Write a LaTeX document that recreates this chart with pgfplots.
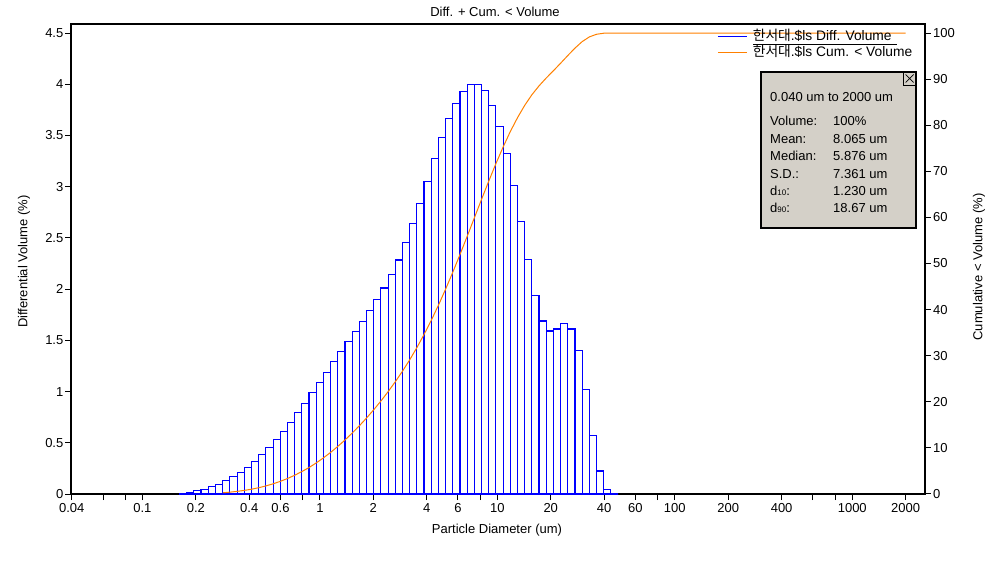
\documentclass[border=0pt]{standalone}
\usepackage{pgfplots}
\pgfplotsset{compat=1.18}
\usepackage{fontspec}
\setmainfont{Liberation Sans}
\newfontfamily\kr{Noto Sans CJK KR}
\definecolor{barblue}{RGB}{0,0,255}
\definecolor{cumorange}{RGB}{255,128,0}
\definecolor{boxgray}{RGB}{212,208,200}
\newcommand\f{\fontsize{13}{15}\selectfont}
\newcommand\fl{\fontsize{13.8}{15}\selectfont}

\begin{document}
\begin{tikzpicture}[x=1pt,y=1pt]
\path[use as bounding box] (0,0) rectangle (1002,563);
\begin{axis}[
  at={(71pt,69pt)}, anchor=south west,
  scale only axis, width=854pt, height=470pt,
  xmode=log, xmin=0.0396, xmax=2570,
  ymin=0, ymax=4.588,
  xminorticks=false,
  axis line style={line width=1.4pt},
  tick align=outside, major tick length=6pt,
  every tick/.style={black, line width=1pt},
  xtick pos=bottom, ytick pos=left,
  xtick={0.04,0.06,0.08,0.1,0.2,0.4,0.6,0.8,1,2,4,6,8,10,20,40,60,80,100,200,400,600,800,1000,2000},
  xticklabels={0.04,,,0.1,0.2,0.4,0.6,,1,2,4,6,,10,20,40,60,,100,200,400,,,1000,2000},
  ytick={0,0.5,1,1.5,2,2.5,3,3.5,4,4.5},
  yticklabels={0,0.5,1,1.5,2,2.5,3,3.5,4,4.5},
  tick label style={font=\f},
  yticklabel style={inner sep=1.5pt},
  xticklabel style={inner sep=3.5pt},
  /pgf/number format/assume math mode=true,
]
\addplot[ybar interval, draw=barblue, fill=white, line width=1.1pt] coordinates {
(0.162,0.005) (0.178,0.018) (0.195,0.03) (0.214,0.047) (0.235,0.07) (0.258,0.097) (0.284,0.133) (0.311,0.17) (0.342,0.211) (0.375,0.26) (0.412,0.319) (0.452,0.387) (0.496,0.455) (0.545,0.533) (0.598,0.61) (0.657,0.698) (0.721,0.797) (0.791,0.883) (0.869,0.992) (0.954,1.09) (1.047,1.184) (1.149,1.292) (1.261,1.39) (1.385,1.487) (1.520,1.585) (1.669,1.682) (1.832,1.788) (2.011,1.895) (2.208,2.011) (2.423,2.141) (2.660,2.284) (2.920,2.455) (3.206,2.64) (3.519,2.838) (3.863,3.053) (4.241,3.277) (4.656,3.482) (5.111,3.667) (5.611,3.814) (6.159,3.931) (6.761,4.0) (7.422,4.0) (8.148,3.94) (8.944,3.794) (9.819,3.589) (10.78,3.326) (11.83,3.013) (12.99,2.662) (14.26,2.29) (15.65,1.936) (17.18,1.689) (18.86,1.591) (20.71,1.611) (22.73,1.662) (24.95,1.611) (27.39,1.399) (30.07,1.018) (33.01,0.569) (36.24,0.225) (39.78,0.04) (43.67,0) (47.94,0)
};
\end{axis}
\begin{axis}[
  at={(71pt,69pt)}, anchor=south west,
  scale only axis, width=854pt, height=470pt,
  xmode=log, xmin=0.0396, xmax=2570,
  ymin=0, ymax=101.96,
  axis x line=none, axis y line*=right,
  axis line style={line width=1.4pt},
  tick align=outside, major tick length=6pt,
  every tick/.style={black, line width=1pt},
  ytick={0,10,20,30,40,50,60,70,80,90,100},
  yticklabels={0,10,20,30,40,50,60,70,80,90,100},
  tick label style={font=\f},
  yticklabel style={inner sep=2pt},
  /pgf/number format/assume math mode=true,
  legend style={at={(0.7564,0.9915)}, anchor=north west, draw=none, fill=none,
    inner sep=0pt, row sep=0pt, font=\fl,
    nodes={inner sep=2.5pt, text height=10pt, text depth=1pt}},
  legend cell align=left,
  legend image code/.code={\draw[#1, line width=1.3pt] (0pt,0pt) -- (29pt,0pt); \path (32pt,0pt);},
]
\addlegendimage{barblue}
\addlegendentry{{\kr 한서대}.\$ls Diff. Volume}
\addplot[cumorange, line width=1pt] coordinates {
(0.284,0.27) (0.311,0.40) (0.342,0.57) (0.375,0.78) (0.412,1.04) (0.452,1.36) (0.496,1.75) (0.545,2.21) (0.598,2.74) (0.657,3.36) (0.721,4.06) (0.791,4.86) (0.869,5.74) (0.954,6.74) (1.047,7.83) (1.149,9.02) (1.261,10.31) (1.385,11.71) (1.520,13.20) (1.669,14.79) (1.832,16.48) (2.011,18.27) (2.208,20.17) (2.423,22.19) (2.660,24.34) (2.920,26.63) (3.206,29.09) (3.519,31.74) (3.863,34.59) (4.241,37.65) (4.656,40.94) (5.111,44.44) (5.611,48.11) (6.159,51.94) (6.761,55.88) (7.422,59.90) (8.148,63.91) (8.944,67.86) (9.819,71.67) (10.78,75.27) (11.83,78.61) (12.99,81.63) (14.26,84.30) (15.65,86.60) (17.18,88.54) (18.86,90.24) (20.71,91.83) (22.73,93.45) (24.95,95.12) (27.39,96.73) (30.07,98.14) (33.01,99.16) (36.24,99.73) (39.78,99.96) (43.67,100) (2000,100)
};
\addlegendentry{{\kr 한서대}.\$ls Cum. < Volume}
\end{axis}
% titles and axis labels
\node[font=\f] at (495,551) {Diff. + Cum. < Volume};
\node[font=\f] at (497,33) {Particle Diameter (um)};
\node[font=\f, rotate=90] at (24,301.5) {Differential Volume (\%)};
\node[font=\f, rotate=90] at (979,296) {Cumulative < Volume (\%)};
% legend underline
\draw[line width=1pt] (753,518.5) -- (897,518.5);
% statistics box
\draw[line width=2pt, fill=boxgray] (760.5,491) rectangle (916,335);
\draw[line width=0.8pt] (903,491) rectangle (916,478);
\draw[line width=0.7pt] (905.5,488.5) -- (913.5,480.5) (905.5,480.5) -- (913.5,488.5);
\begin{scope}[every node/.style={font=\f, anchor=base west, inner sep=0pt}]
\node at (770,461) {0.040 um to 2000 um};
\node at (770,437) {Volume:};   \node at (833,437) {100\%};
\node at (770,419.5) {Mean:};   \node at (833,419.5) {8.065 um};
\node at (770,402.2) {Median:}; \node at (833,402.2) {5.876 um};
\node at (770,384.8) {S.D.:};   \node at (833,384.8) {7.361 um};
\node at (770,367.5) {d{\fontsize{8}{9}\selectfont 10}:}; \node at (833,367.5) {1.230 um};
\node at (770,350.8) {d{\fontsize{8}{9}\selectfont 90}:}; \node at (833,350.8) {18.67 um};
\end{scope}
\end{tikzpicture}
\end{document}
